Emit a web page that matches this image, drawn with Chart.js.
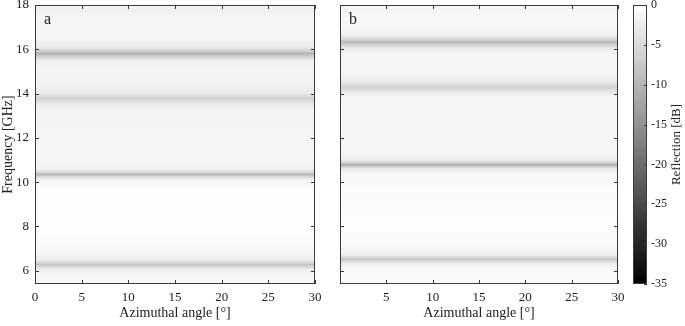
<!DOCTYPE html>
<html>
<head>
<meta charset="utf-8">
<script src="https://cdn.jsdelivr.net/npm/chart.js@4.4.1/dist/chart.umd.min.js"></script>
<style>
  html, body { margin: 0; padding: 0; background: #fff; }
  #wrap { position: relative; width: 685px; height: 326px; overflow: hidden; }
  canvas { position: absolute; top: 0; }
</style>
</head>
<body>
<div id="wrap">
  <canvas id="chartA" width="325" height="326" style="left:0"></canvas>
  <canvas id="chartB" width="300" height="326" style="left:330px"></canvas>
  <canvas id="chartC" width="65" height="326" style="left:620px"></canvas>
</div>
<script>
// axis ticks
const freqTicks = [6, 8, 10, 12, 14, 16, 18];
const azTicksA = [0, 5, 10, 15, 20, 25, 30];
const azTicksB = [5, 10, 15, 20, 25, 30];
const cbTicks = [-35, -30, -25, -20, -15, -10, -5, 0];
const cbRange = [-35, 0];
const freqRange = [5.4, 18];
const azRange = [0, 30];

// reflection profile (dB) vs frequency (GHz), constant along azimuth
const freqA = [5.4, 5.9, 6.08, 6.18, 6.28, 6.38, 6.5, 6.8, 7.2, 8.0, 9.5, 10.1, 10.25, 10.35, 10.45, 10.6, 11.0, 12.0, 13.3, 13.55, 13.7, 13.79, 13.88, 14.05, 14.4, 15.2, 15.5, 15.68, 15.8, 15.92, 16.1, 16.5, 17.4, 17.65, 17.77, 17.9, 18.0];
const reflA = [-1.0, -1.2, -2.6, -5.5, -8.0, -5.0, -2.2, -1.4, -0.8, -0.3, -0.3, -1.4, -5.5, -10.5, -5.0, -1.8, -1.2, -1.4, -1.7, -3.0, -5.0, -6.0, -4.6, -2.6, -1.7, -1.4, -2.3, -6.5, -10.5, -6.5, -2.6, -1.4, -1.2, -1.8, -2.6, -1.6, -1.1];

const freqB = [5.4, 6.1, 6.32, 6.44, 6.52, 6.6, 6.75, 7.2, 8.0, 9.5, 10.4, 10.6, 10.7, 10.78, 10.86, 11.0, 11.4, 12.5, 13.8, 14.05, 14.2, 14.3, 14.4, 14.6, 15.0, 15.8, 16.05, 16.22, 16.33, 16.44, 16.62, 17.0, 17.6, 17.85, 18.0];
const reflB = [-0.5, -0.8, -2.6, -5.5, -8.0, -5.0, -1.8, -0.8, -0.3, -0.5, -1.1, -3.0, -7.0, -11.5, -6.5, -2.2, -1.4, -1.1, -1.4, -3.0, -5.0, -6.0, -4.6, -2.2, -1.4, -1.4, -3.0, -7.0, -9.5, -6.0, -2.2, -1.1, -0.9, -1.4, -0.9];

const FONT = '"Liberation Serif", "Times New Roman", serif';
const INK = '#222';
const BOX = '#3a3a3a';

// gray colormap, -35 dB black .. 0 dB white
function grayOf(v) {
  const t = Math.min(1, Math.max(0, (v - cbRange[0]) / (cbRange[1] - cbRange[0])));
  const g = Math.round(255 * t);
  return `rgb(${g},${g},${g})`;
}

function setTicks(list) {
  return (s) => { s.ticks = list.map((v) => ({ value: v })); };
}

function heatLayer(id, freqs, vals, letter) {
  return {
    id,
    beforeDatasetsDraw(chart) {
      const { ctx, chartArea: a, scales: { x, y } } = chart;
      const y0 = y.getPixelForValue(freqs[0]);
      const y1 = y.getPixelForValue(freqs[freqs.length - 1]);
      const grad = ctx.createLinearGradient(0, y1, 0, y0);
      freqs.forEach((f, i) => {
        grad.addColorStop((y.getPixelForValue(f) - y1) / (y0 - y1), grayOf(vals[i]));
      });
      const xl = x.getPixelForValue(azRange[0]);
      const xr = x.getPixelForValue(azRange[1]);
      ctx.save();
      ctx.beginPath();
      ctx.rect(a.left, a.top, a.width, a.height);
      ctx.clip();
      ctx.fillStyle = grad;
      ctx.fillRect(xl, y1, xr - xl, y0 - y1);
      ctx.restore();
    },
    afterDraw(chart) {
      const { ctx, chartArea: a, scales: { x, y } } = chart;
      ctx.save();
      ctx.strokeStyle = BOX;
      ctx.lineWidth = 1;
      ctx.strokeRect(Math.round(a.left) + 0.5, Math.round(a.top) + 0.5, Math.round(a.width) - 1, Math.round(a.height) - 1);
      ctx.beginPath();
      x.ticks.forEach((t) => {
        const px = Math.round(x.getPixelForValue(t.value)) + 0.5;
        ctx.moveTo(px, a.bottom); ctx.lineTo(px, a.bottom - 4);
        ctx.moveTo(px, a.top); ctx.lineTo(px, a.top + 4);
      });
      y.ticks.forEach((t) => {
        const py = Math.round(y.getPixelForValue(t.value)) + 0.5;
        ctx.moveTo(a.left, py); ctx.lineTo(a.left + 4, py);
        ctx.moveTo(a.right, py); ctx.lineTo(a.right - 4, py);
      });
      ctx.stroke();
      ctx.fillStyle = INK;
      ctx.font = '16px ' + FONT;
      ctx.fillText(letter, a.left + 9, a.top + 19);
      ctx.restore();
    },
  };
}

function panel(canvasId, freqs, vals, letter, azTicks, showY, yWidth, padRight) {
  return new Chart(document.getElementById(canvasId), {
    type: 'scatter',
    data: { datasets: [] },
    options: {
      responsive: false, animation: false, events: [],
      layout: { padding: { top: 5, right: padRight, left: 0, bottom: 0 } },
      plugins: { legend: { display: false }, tooltip: { enabled: false } },
      scales: {
        x: {
          type: 'linear', min: azRange[0], max: azRange[1],
          afterBuildTicks: setTicks(azTicks),
          afterFit: (s) => { s.height = 42; s.paddingLeft = 0; s.paddingRight = 0; },
          grid: { display: false, drawTicks: false, tickLength: 0 },
          border: { display: false },
          ticks: { font: { family: FONT, size: 13 }, color: INK, padding: 6, maxRotation: 0 },
          title: { display: true, text: 'Azimuthal angle [°]', font: { family: FONT, size: 14 }, color: INK, padding: { top: 0, bottom: 4 } },
        },
        y: {
          type: 'linear', min: freqRange[0], max: freqRange[1],
          afterBuildTicks: setTicks(freqTicks),
          afterFit: (s) => { s.width = yWidth; s.paddingTop = 0; s.paddingBottom = 0; },
          grid: { display: false, drawTicks: false, tickLength: 0 },
          border: { display: false },
          ticks: { display: showY, font: { family: FONT, size: 13 }, color: INK, padding: 6 },
          title: { display: showY, text: 'Frequency [GHz]', font: { family: FONT, size: 14 }, color: INK, padding: { top: 0, bottom: 0 } },
        },
      },
    },
    plugins: [heatLayer('heat' + letter, freqs, vals, letter)],
  });
}

panel('chartA', freqA, reflA, 'a', azTicksA, true, 35, 10);
panel('chartB', freqB, reflB, 'b', azTicksB, false, 10, 12);

// colour bar
new Chart(document.getElementById('chartC'), {
  type: 'bar',
  data: {
    labels: ['dB'],
    datasets: [{
      data: [cbRange],
      barPercentage: 1, categoryPercentage: 1, borderWidth: 0,
      backgroundColor: (c) => {
        const a = c.chart.chartArea;
        if (!a) return '#888';
        const g = c.chart.ctx.createLinearGradient(0, a.top, 0, a.bottom);
        g.addColorStop(0, grayOf(cbRange[1]));
        g.addColorStop(1, grayOf(cbRange[0]));
        return g;
      },
    }],
  },
  options: {
    responsive: false, animation: false, events: [],
    layout: { padding: { top: 5, bottom: 42, left: 13, right: 0 } },
    plugins: { legend: { display: false }, tooltip: { enabled: false } },
    scales: {
      x: { display: false },
      y: {
        position: 'right', min: cbRange[0], max: cbRange[1],
        afterBuildTicks: setTicks(cbTicks),
        afterFit: (s) => { s.width = 38; s.paddingTop = 0; s.paddingBottom = 0; },
        grid: { display: false, drawTicks: false, tickLength: 0 },
        border: { display: false },
        ticks: { font: { family: FONT, size: 12 }, color: INK, padding: 4 },
      },
    },
  },
  plugins: [{
    id: 'cbFrame',
    afterDraw(chart) {
      const { ctx, chartArea: a, scales: { y } } = chart;
      ctx.save();
      ctx.strokeStyle = BOX;
      ctx.lineWidth = 1;
      ctx.strokeRect(Math.round(a.left) + 0.5, Math.round(a.top) + 0.5, Math.round(a.width) - 1, Math.round(a.height) - 1);
      ctx.beginPath();
      y.ticks.forEach((t) => {
        const py = Math.round(y.getPixelForValue(t.value)) + 0.5;
        ctx.moveTo(a.right, py); ctx.lineTo(a.right - 3, py);
      });
      ctx.stroke();
      ctx.fillStyle = INK;
      ctx.font = '13px ' + FONT;
      ctx.textAlign = 'center';
      ctx.textBaseline = 'middle';
      ctx.translate(57, (a.top + a.bottom) / 2);
      ctx.rotate(-Math.PI / 2);
      ctx.fillText('Reflection [dB]', 0, 0);
      ctx.restore();
    },
  }],
});
</script>
</body>
</html>
